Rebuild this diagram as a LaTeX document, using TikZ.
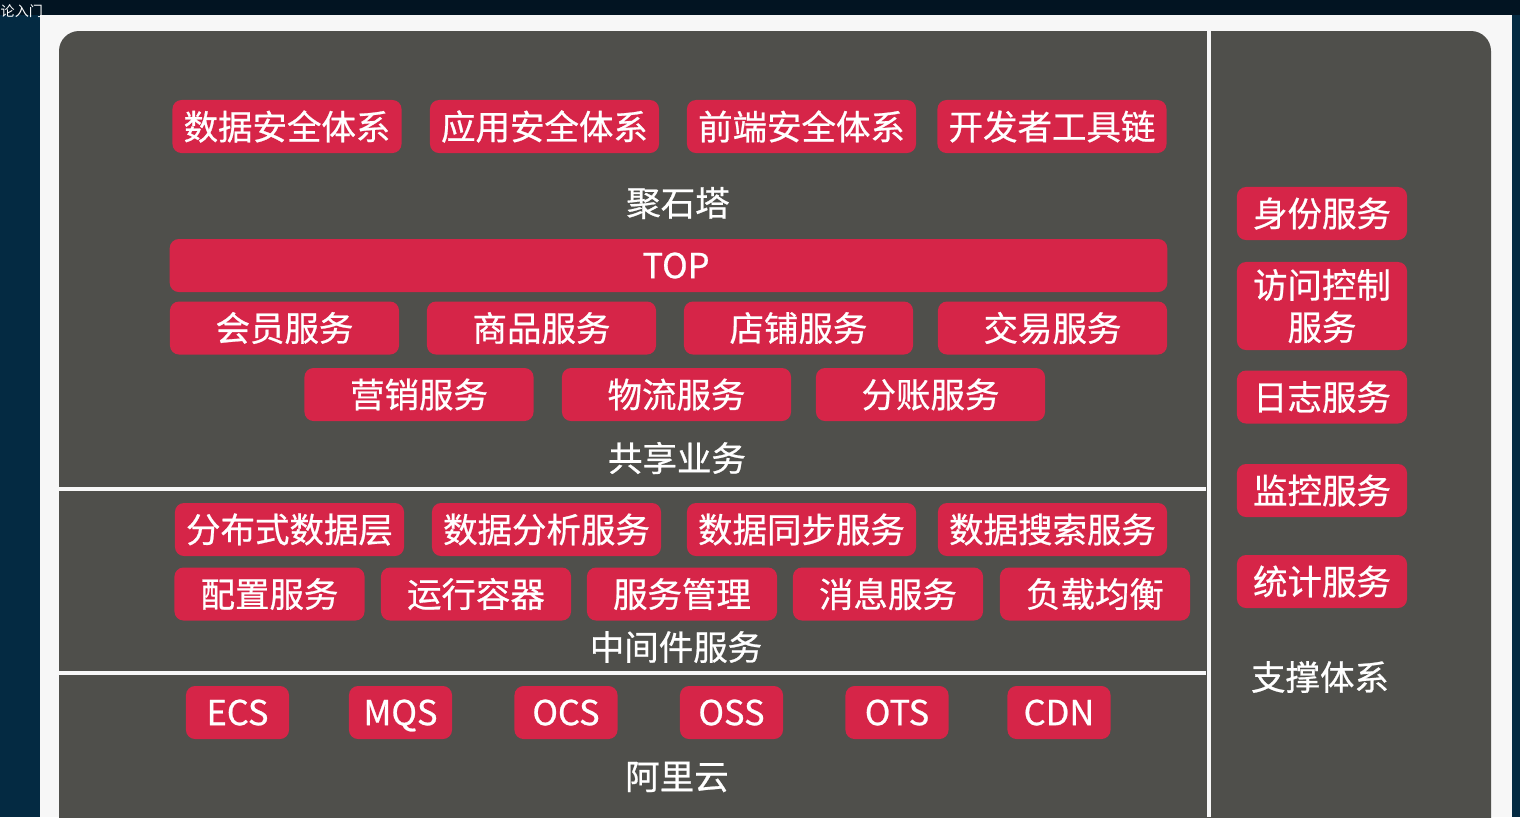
\documentclass[tikz,border=0pt]{standalone}
\usepackage{fontspec}
\newfontfamily\cjk[FakeBold=0.7]{Noto Sans CJK SC}
\newfontfamily\cjklight{Noto Sans CJK SC}
\usetikzlibrary{positioning}
\definecolor{panelgray}{RGB}{79,79,75}
\definecolor{svcred}{RGB}{214,37,72}
\definecolor{deskblue}{RGB}{4,42,66}
\definecolor{deskdark}{RGB}{2,20,34}
\definecolor{pagewhite}{RGB}{247,247,247}

\begin{document}
\begin{tikzpicture}[
  x=0.01cm, y=-0.01cm,
  svc/.style={rectangle, fill=svcred, rounded corners=2.6pt, text=white, font=\cjk\fontsize{9.8}{12}\selectfont, minimum height=0.53cm, inner sep=0pt, align=center},
  svcwide/.style={svc, minimum width=2.29cm},
  svcmid/.style={svc, minimum width=1.90cm},
  cloudsvc/.style={svc, minimum width=1.03cm, text height=0.72em, text depth=0pt},
  sidesvc/.style={svc, minimum width=1.70cm},
  layername/.style={text=white, font=\cjk\fontsize{9.8}{12}\selectfont, inner sep=0pt},
  gapline/.style={draw=pagewhite, line width=0.04cm}
]

  % Screen background
  \useasboundingbox (0,0) rectangle (1520,817);
  \clip (0,0) rectangle (1520,817);
  \fill[deskblue] (0,0) rectangle (1520,817);
  \fill[deskdark] (0,0) rectangle (1520,15);
  \fill[pagewhite] (40,15) rectangle (1512,817);
  \fill[panelgray, rounded corners=0.2cm] (59,31) rectangle (1491,860);
  \node[text=white, font=\cjklight\fontsize{4}{5}\selectfont, inner sep=0pt, anchor=west] (title) at (0,11) {论入门};

  % Panel separators
  \draw[gapline] (1208.5,31) -- (1208.5,817);
  \draw[gapline] (59,489) -- (1206,489);
  \draw[gapline] (59,673) -- (1206,673);

  % 聚石塔
  \node[svcwide] (datasec) at (287,126.5) {数据安全体系};
  \node[svcwide] (appsec) at (544.5,126.5) {应用安全体系};
  \node[svcwide] (frontsec) at (801.5,126.5) {前端安全体系};
  \node[svcwide] (devtools) at (1052,126.5) {开发者工具链};
  \node[layername] (jst) at (678,203) {聚石塔};

  % 共享业务
  \node[svc, minimum width=9.97cm] (top) at (668.5,265.5) {\hspace{0.15cm}TOP};
  \node[svcwide] (member) at (284.5,328) {会员服务};
  \node[svcwide] (goods) at (541.5,328) {商品服务};
  \node[svcwide] (shop) at (798.5,328) {店铺服务};
  \node[svcwide] (trade) at (1052.5,328) {交易服务};
  \node[svcwide] (market) at (419,394.5) {营销服务};
  \node[svcwide] (logistics) at (676.5,394.5) {物流服务};
  \node[svcwide] (split) at (930.5,394.5) {分账服务};
  \node[layername] (shared) at (677,458) {共享业务};

  % 中间件服务
  \node[svcwide] (ddl) at (289.5,529.5) {分布式数据层};
  \node[svcwide] (analysis) at (546.5,529.5) {数据分析服务};
  \node[svcwide] (sync) at (801.5,529.5) {数据同步服务};
  \node[svcwide] (search) at (1052.5,529.5) {数据搜索服务};
  \node[svcmid] (config) at (269.5,594) {配置服务};
  \node[svcmid] (container) at (476,594) {运行容器};
  \node[svcmid] (svcmgmt) at (682,594) {服务管理};
  \node[svcmid] (message) at (888,594) {消息服务};
  \node[svcmid] (balance) at (1095,594) {负载均衡};
  \node[layername] (middleware) at (676,647) {中间件服务};

  % 阿里云
  \node[cloudsvc] (ecs) at (237.5,712.5) {ECS};
  \node[cloudsvc] (mqs) at (400.5,712.5) {MQS};
  \node[cloudsvc] (ocs) at (566,712.5) {OCS};
  \node[cloudsvc] (oss) at (731.5,712.5) {OSS};
  \node[cloudsvc] (ots) at (897,712.5) {OTS};
  \node[cloudsvc] (cdn) at (1059,712.5) {CDN};
  \node[layername] (aliyun) at (677,777) {阿里云};

  % 支撑体系
  \node[sidesvc] (identity) at (1322,213.5) {身份服务};
  \node[sidesvc, minimum height=0.88cm] (access) at (1322,306) {访问控制\\服务};
  \node[sidesvc] (log) at (1322,397) {日志服务};
  \node[sidesvc] (monitor) at (1322,490.5) {监控服务};
  \node[sidesvc] (stats) at (1322,581.5) {统计服务};
  \node[layername] (support) at (1320,677) {支撑体系};

\end{tikzpicture}
\end{document}
